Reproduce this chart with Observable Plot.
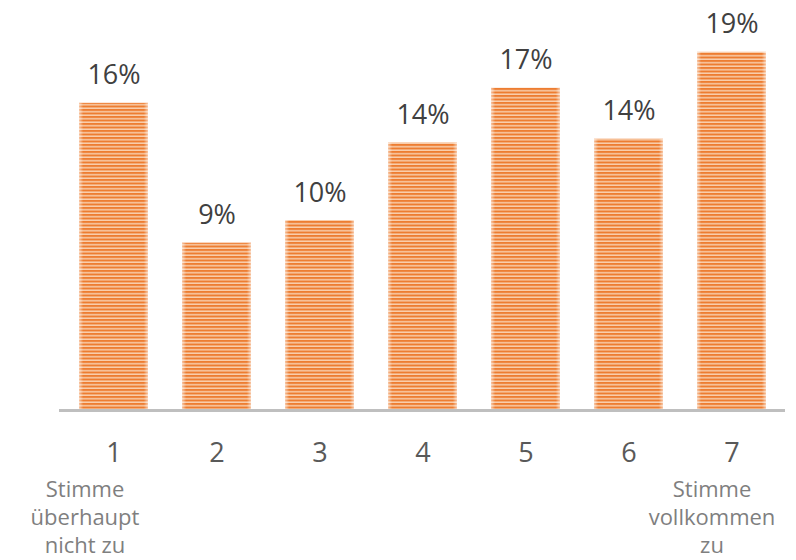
<!DOCTYPE html>
<html>
<head>
<meta charset="utf-8">
<script src="https://cdn.jsdelivr.net/npm/d3@7"></script>
<script src="https://cdn.jsdelivr.net/npm/@observablehq/plot@0.6"></script>
<style>
  html, body { margin: 0; padding: 0; background: #fff; }
  #chart svg { display: block; }
</style>
</head>
<body>
<div id="chart"></div>
<script>
const categories = ["1", "2", "3", "4", "5", "6", "7"];
const values = [16.2, 8.8, 10.0, 14.1, 17.0, 14.3, 18.9];
const lowLabel = "Stimme\nüberhaupt\nnicht zu";
const highLabel = "Stimme\nvollkommen\nzu";

const data = categories.map((c, i) => ({
  cat: c,
  value: values[i],
  label: Math.round(values[i]) + "%"
}));

const font = "'Open Sans', 'DejaVu Sans', sans-serif";

const plot = Plot.plot({
  width: 796,
  height: 560,
  marginTop: 31,
  marginBottom: 151,
  marginLeft: 59,
  marginRight: 11,
  style: { fontFamily: font, background: "#fff", overflow: "visible" },
  x: { type: "band", domain: categories, paddingInner: 0.333, paddingOuter: 0.167, axis: null },
  y: { domain: [0, 20], axis: null },
  marks: [
    Plot.barY(data, { x: "cat", y: "value", fill: "url(#stripes)" }),
    Plot.barY(data, { x: "cat", y: "value", fill: "url(#edgefade)" }),
    Plot.ruleY([0], { stroke: "#BFBFBF", strokeWidth: 3, dy: 1 }),
    Plot.text(data, { x: "cat", y: "value", text: "label", dy: -19, lineAnchor: "bottom", fontSize: 27, fill: "#404040" }),
    Plot.text(data, { x: "cat", y: () => 0, text: "cat", dy: 52, lineAnchor: "bottom", fontSize: 27, fill: "#595959" }),
    Plot.text([lowLabel], { x: () => categories[0], y: () => 0, text: d => d, dy: 68, dx: -29, lineAnchor: "top", lineHeight: 1.27, fontSize: 22, fill: "#7F7F7F" }),
    Plot.text([highLabel], { x: () => categories[6], y: () => 0, text: d => d, dy: 68, dx: -20, lineAnchor: "top", lineHeight: 1.27, fontSize: 22, fill: "#7F7F7F" })
  ]
});

const ns = "http://www.w3.org/2000/svg";
const defs = document.createElementNS(ns, "defs");
defs.innerHTML = `
  <pattern id="stripes" patternUnits="userSpaceOnUse" x="0" y="0.5" width="8" height="3.5">
    <rect x="0" y="0" width="8" height="3.5" fill="#F9CFAE"></rect>
    <rect x="0" y="0" width="8" height="2" fill="#ED7D31"></rect>
  </pattern>
  <linearGradient id="edgefade" x1="0" x2="1" y1="0" y2="0">
    <stop offset="0" stop-color="#fff" stop-opacity="0.55"></stop>
    <stop offset="0.06" stop-color="#fff" stop-opacity="0"></stop>
    <stop offset="0.94" stop-color="#fff" stop-opacity="0"></stop>
    <stop offset="1" stop-color="#fff" stop-opacity="0.55"></stop>
  </linearGradient>`;
plot.insertBefore(defs, plot.firstChild);

document.getElementById("chart").appendChild(plot);
</script>
</body>
</html>
